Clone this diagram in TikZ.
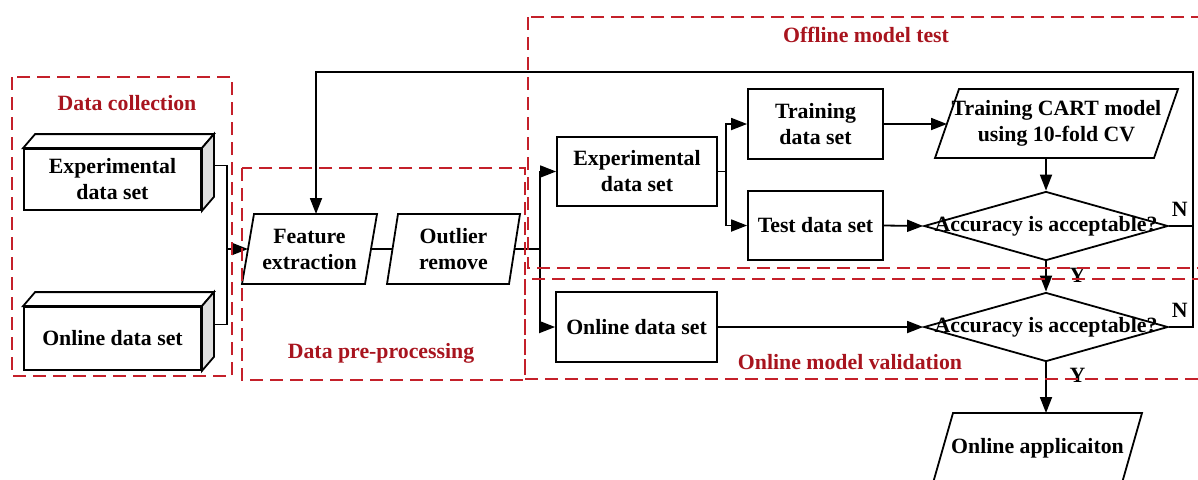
\documentclass[tikz,border=0pt]{standalone}
\usepackage{fontspec}
\setmainfont{Liberation Serif}
\usetikzlibrary{arrows.meta,shapes.geometric}

\definecolor{dashred}{RGB}{196,32,42}
\definecolor{titlered}{RGB}{168,20,30}

\begin{document}
\begin{tikzpicture}[x=0.5pt,y=-0.5pt,
		font=\fontsize{10.9}{13}\selectfont\bfseries,
		line width=0.9pt,
		>={Triangle[length=8pt,width=6pt]},
		box/.style={draw, fill=white, align=center, inner sep=1pt},
		slant/.style={align=center, inner sep=0pt, outer sep=0pt},
		decision/.style={draw, fill=white, diamond, inner sep=0pt, minimum width=122pt, minimum height=34.5pt},
		area/.style={draw=dashred, dash pattern=on 6.5pt off 3.5pt, line width=1pt},
		areatitle/.style={text=titlered}]
			
			\useasboundingbox (0,0) rectangle (1198,479);
			
			% data collection
			\node[box, minimum width=88.5pt, minimum height=30.5pt] (expA) at (112.5,179.5) {Experimental\\data set};
			\node[box, minimum width=88.5pt, minimum height=31.5pt] (onlA) at (112.5,338.5) {Online data set};
			\foreach \n in {expA,onlA}{
				\draw[fill=white] (\n.north west) -- ++(12,-14) -- ([shift={(12,-14)}]\n.north east) -- (\n.north east) -- cycle;
				\draw[fill=black!13] (\n.north east) -- ([shift={(12,-14)}]\n.north east) -- ([shift={(12,-14)}]\n.south east) -- (\n.south east) -- cycle;
			}
			
			% slanted steps
			\node[slant, minimum width=61.5pt, minimum height=35pt] (feat) at (309.5,249) {Feature\\extraction};
			\node[slant, minimum width=61pt, minimum height=35pt] (outl) at (453.5,249) {Outlier\\remove};
			\node[slant, minimum width=109.5pt, minimum height=34.5pt] (cart) at (1056.5,123.5) {Training CART model\\using 10-fold CV};
			\node[slant, minimum width=94.5pt, minimum height=35pt] (app) at (1037.5,448) {Online applicaiton};
			\foreach \n/\s in {feat/12,outl/11,cart/24,app/20}{
				\draw ([shift={(-\s/2,0)}]\n.south west) -- ([shift={(\s/2,0)}]\n.north west) -- ([shift={(\s/2,0)}]\n.north east) -- ([shift={(-\s/2,0)}]\n.south east) -- cycle;
			}
			
			\coordinate (jn) at (227,249);
			\draw ([shift={(12,-14)}]expA.east) -| (jn);
			\draw ([shift={(12,-14)}]onlA.east) -| (jn);
			\draw[->] (jn) -- (feat.west);
			\draw (feat.east) -- (outl.west);
			
			% offline model test
			\node[box, minimum width=80pt, minimum height=34.5pt] (expB) at (637,171.5) {Experimental\\data set};
			\node[box, minimum width=67.5pt, minimum height=35pt] (train) at (815.5,124) {Training\\data set};
			\node[box, minimum width=67.5pt, minimum height=34.5pt] (test) at (815.5,225.5) {Test data set};
			\node[decision, label={center:Accuracy is acceptable?}] (dOff) at (1046,226) {};
			
			% online model validation
			\node[box, minimum width=80.5pt, minimum height=35pt] (onlB) at (636.5,327) {Online data set};
			\node[decision, label={center:Accuracy is acceptable?}] (dOn) at (1046,327) {};
			
			\coordinate (split) at (540,249);
			\coordinate (branch) at (726,171.5);
			\coordinate (back) at (1193,72);
			\coordinate (backL) at (316,72);
			
			\draw (outl.east) -- (split);
			\draw[->] (split) |- (expB.west);
			\draw[->] (split) |- (onlB.west);
			\draw (expB.east) -- (branch);
			\draw[->] (branch) |- (train.west);
			\draw[->] (branch) |- (test.west);
			\draw[->] (train.east) -- (train.east -| cart.west);
			\draw[->] (dOff.north |- cart.south) -- (dOff.north);
			\draw[->] (test.east) -- (dOff.west);
			\draw[->] (onlB.east) -- (dOn.west);
			\draw[->] (dOff.south) -- node[pos=0.45, right=8pt] {Y} (dOn.north);
			\draw[->] (dOn.south) -- node[pos=0.25, right=8pt] {Y} (dOn.south |- app.north);
			\draw (dOff.east) -- node[pos=0.45, above=1pt] {N} (dOff.east -| back);
			\draw[->] (dOn.east) -- node[pos=0.45, above=1pt] {N} (dOn.east -| back) -- (back) -- (backL) -- (backL |- feat.north);
			
			% dashed areas
			\draw[area] (12,77) rectangle (232,376);
			\draw[area] (242,168) rectangle (525,380);
			\draw[area] (528,17) rectangle (1215,268);
			\draw[area] (525,279) rectangle (1215,379);
			
			\node[areatitle] (tColl) at (127,103) {Data collection};
			\node[areatitle] (tPre) at (381,353) {Data pre-processing};
			\node[areatitle] (tOff) at (866,35) {Offline model test};
			\node[areatitle] (tOn) at (850,362) {Online model validation};
			
\end{tikzpicture}
\end{document}
